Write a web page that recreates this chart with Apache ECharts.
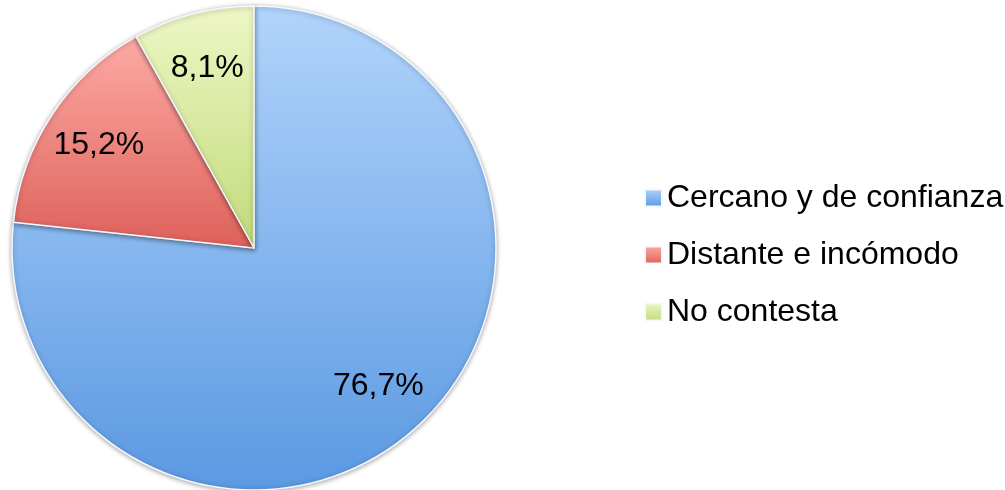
<!DOCTYPE html>
<html>
<head>
<meta charset="utf-8">
<script src="https://cdn.jsdelivr.net/npm/echarts@6/dist/echarts.min.js"></script>
<style>
  html, body { margin: 0; padding: 0; background: #fff; }
  #main { width: 1005px; height: 490px; }
</style>
</head>
<body>
<div id="main"></div>
<script>
// datos del gráfico
var categories = ['Cercano y de confianza', 'Distante e incómodo', 'No contesta'];
var values = [76.7, 15.2, 8.1];
// colores claro (arriba) / oscuro (abajo) de cada sector
var topColors = ['#b1d4fb', '#fdaaa5', '#eef7c6'];
var bottomColors = ['#5b99e2', '#de615a', '#c2da7a'];

function grad(i) {
    return new echarts.graphic.LinearGradient(0, 0, 0, 1, [
        { offset: 0, color: topColors[i] },
        { offset: 1, color: bottomColors[i] }
    ]);
}

var pieData = categories.map(function (name, i) {
    return { name: name, value: values[i], itemStyle: { color: grad(i) } };
});
var labelData = categories.map(function (name, i) {
    return { name: name, value: values[i] };
});

var myChart = echarts.init(document.getElementById('main'));
myChart.setOption({
    animation: false,
    legend: {
        orient: 'vertical',
        left: 639,
        top: 177,
        itemWidth: 17,
        itemHeight: 17,
        itemGap: 25,
        icon: 'rect',
        data: categories,
        textStyle: {
            fontFamily: 'Liberation Sans',
            fontSize: 32,
            lineHeight: 32,
            color: '#000'
        }
    },
    series: [
        {
            name: 'pie',
            type: 'pie',
            center: [254, 248],
            radius: 242,
            startAngle: 90,
            clockwise: true,
            label: { show: false },
            labelLine: { show: false },
            itemStyle: {
                borderColor: '#f4f8ff',
                borderWidth: 1.5,
                shadowBlur: 5,
                shadowColor: 'rgba(0,0,0,0.35)',
                shadowOffsetY: 1
            },
            emphasis: { disabled: true },
            data: pieData
        },
        {
            // capa transparente solo para colocar las etiquetas
            name: 'labels',
            type: 'pie',
            center: [254, 248],
            radius: [124, 242],
            startAngle: 90,
            clockwise: true,
            silent: true,
            legendHoverLink: false,
            itemStyle: { color: 'transparent', borderWidth: 0 },
            label: {
                show: true,
                position: 'inside',
                fontFamily: 'Liberation Sans',
                fontSize: 32,
                color: '#000',
                formatter: function (p) {
                    return p.value.toFixed(1).replace('.', ',') + '%';
                }
            },
            labelLine: { show: false },
            emphasis: { disabled: true },
            data: labelData
        }
    ]
});
</script>
</body>
</html>
